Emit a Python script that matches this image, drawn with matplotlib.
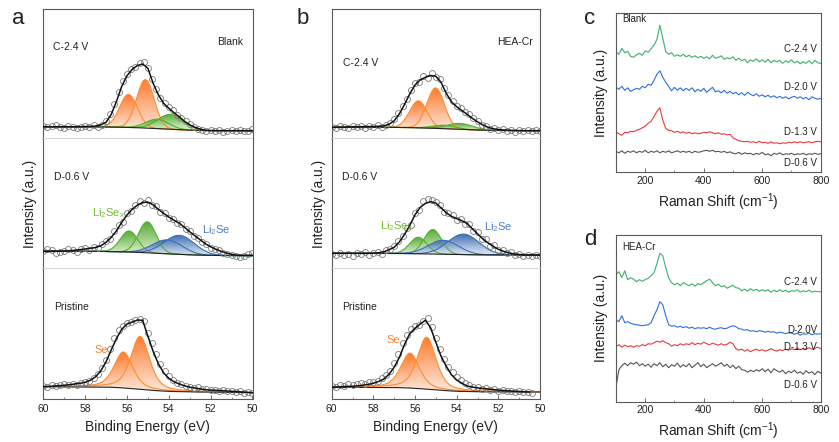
import numpy as np
import matplotlib.pyplot as plt
from matplotlib.colors import LinearSegmentedColormap

plt.rcParams['font.family'] = ['Liberation Sans', 'DejaVu Sans']
plt.rcParams['mathtext.default'] = 'regular'

# ---------------- Se 3d XPS (a: Blank, b: HEA-Cr) ----------------
# points every 0.2 eV from 60 eV, fit envelope every 0.25 eV from 60 eV
a_c24_pts = [13.5, 12.0, 13.8, 14.2, 12.6, 11.5, 13.0, 12.2, 11.4, 12.8,
             13.6, 12.4, 13.9, 12.8, 14.8, 18.5, 25.0, 35.5, 47.0, 58.5,
             65.0, 70.5, 72.0, 76.0, 77.5, 71.5, 60.5, 50.0, 41.5, 36.5,
             32.5, 29.0, 24.5, 21.5, 18.0, 15.5, 12.0, 10.2, 9.0, 8.2,
             9.8, 8.0, 9.2, 7.8, 8.8, 9.6, 8.3, 9.0, 7.9, 8.6, 10.0]
a_c24_fit = [12.5, 12.5, 12.5, 12.5, 12.5, 12.5, 12.5, 12.6, 12.7, 12.9,
             13.2, 14.5, 17, 25, 38, 53, 63.5, 70, 73.8, 75.3,
             71, 56, 44.5, 36, 31, 26.5, 22.5, 18, 14.5, 12,
             10.2, 9, 8.7, 8.6, 8.6, 8.6, 8.6, 8.6, 8.6, 8.6, 8.6]
a_c24_bg_e = [60, 57.5, 56.5, 55.5, 54.5, 53.5, 52.5, 50]
a_c24_bg = [12.6, 12.5, 12.2, 11.6, 10.6, 9.5, 8.8, 8.6]
a_c24_peaks = [('Se', 55.93, 33, 0.43, 0), ('Se', 55.12, 48.5, 0.42, 0),
               ('Li2Sex', 54.55, 9.5, 0.55, 0), ('Li2Sex', 53.92, 15, 0.6, 0)]

a_d06_pts = [18.5, 20.5, 19.0, 16.5, 17.0, 18.5, 20.0, 19.5, 17.5, 20.5,
             21.0, 19.5, 22.5, 21.5, 25.0, 28.5, 30.0, 38.5, 44.0, 47.0,
             56.5, 58.0, 64.5, 68.0, 66.0, 69.0, 64.5, 63.0, 57.5, 56.5,
             51.0, 50.5, 46.0, 45.5, 40.0, 38.5, 33.0, 31.5, 27.0, 25.5,
             21.5, 20.0, 19.0, 16.5, 15.0, 14.5, 13.0, 12.0, 13.5, 15.5, 16.5]
a_d06_fit = [17.8, 17.9, 18, 18.1, 18.2, 18.5, 19, 19.6, 20.3, 21,
             21.8, 23.5, 27, 32, 38.5, 47, 54.3, 60, 64.2, 66.8,
             67.2, 64.5, 60, 56, 52.2, 49, 46, 42, 37.5, 33.5,
             29.5, 25.5, 22.5, 20, 18, 16.3, 15, 14.2, 14, 14, 14]
a_d06_bg_e = [60, 57.5, 56, 55, 54, 53, 52, 50]
a_d06_bg = [18.3, 18.0, 17.4, 16.5, 15.4, 14.5, 13.9, 13.6]
a_d06_peaks = [('Li2Sex', 55.9, 21, 0.42, 0), ('Li2Sex', 55.03, 31, 0.42, 0),
               ('Li2Se', 54.07, 14, 0.7, 0), ('Li2Se', 53.5, 19, 0.72, 0)]

a_pri_pts = [13.5, 12.0, 14.0, 13.0, 14.5, 15.5, 14.0, 15.8, 14.8, 16.5,
             17.5, 18.0, 21.5, 25.5, 31.0, 39.0, 50.0, 61.0, 69.0, 73.5,
             76.5, 77.5, 79.0, 80.5, 78.5, 66.0, 56.0, 45.0, 35.5, 28.0,
             23.0, 19.5, 16.5, 15.0, 13.0, 12.5, 11.0, 12.0, 10.0, 10.5,
             9.0, 9.8, 8.2, 9.0, 8.0, 8.6, 7.2, 8.0, 6.8, 7.5, 6.5]
a_pri_fit = [12.6, 12.8, 13.2, 13.6, 14, 14.6, 15.3, 16, 17, 19,
             22.5, 28.5, 37.5, 49.5, 61, 70, 75.3, 77.2, 79.3, 79,
             63, 48, 35.5, 26.5, 21, 17.5, 15.3, 13.5, 12.1, 11.2,
             10.4, 9.6, 9.2, 8.9, 8.6, 8.3, 8, 7.7, 7.3, 7, 6.6]
a_pri_bg_e = [60, 57, 56.5, 56, 55.5, 55, 54.5, 54, 53, 50]
a_pri_bg = [12.6, 12.2, 11.8, 11.1, 10.2, 9.3, 8.5, 7.9, 7.4, 6.6]
a_pri_peaks = [('Se', 56.17, 36, 0.45, 0.5), ('Se', 55.37, 53, 0.45, 0.5)]

b_c24_pts = [12.8, 11.5, 13.0, 12.2, 11.2, 13.5, 12.0, 13.2, 11.8, 13.0,
             12.2, 14.0, 12.5, 14.5, 16.0, 20.5, 26.0, 33.5, 40.5, 49.0,
             56.5, 57.5, 63.0, 61.5, 66.5, 62.0, 60.5, 51.0, 44.0, 38.5,
             33.5, 31.5, 27.0, 25.0, 21.0, 18.5, 14.5, 13.5, 10.5, 11.5,
             9.0, 10.2, 8.0, 9.5, 7.8, 9.8, 8.2, 9.0, 8.0, 9.2, 8.4]
b_c24_fit = [12, 12.1, 12.2, 12.3, 12.4, 12.5, 12.6, 12.7, 12.8, 13,
             13.4, 15, 18.5, 25.5, 35, 45.5, 54.3, 59.4, 62, 63.8,
             63, 57, 46, 37.5, 32.6, 28.7, 25, 21, 17.5, 14.5,
             12, 10.5, 9.8, 9.3, 9, 8.8, 8.7, 8.6, 8.6, 8.6, 8.6]
b_c24_bg_e = [60, 57.5, 56.5, 55.5, 54.5, 53.5, 52.5, 50]
b_c24_bg = [12.0, 12.0, 11.8, 11.3, 10.5, 9.6, 8.9, 8.6]
b_c24_peaks = [('Se', 55.84, 27, 0.42, 0), ('Se', 55.01, 40.5, 0.42, 0),
               ('Li2Sex', 54.6, 3.5, 0.55, 0), ('Li2Sex', 53.84, 6, 0.6, 0)]

b_d06_pts = [15.0, 14.0, 16.5, 14.5, 15.5, 13.8, 16.8, 15.2, 17.0, 14.8,
             16.0, 17.5, 15.5, 19.0, 20.5, 23.5, 28.0, 33.0, 41.0, 44.5,
             56.0, 59.5, 68.0, 70.5, 69.0, 67.0, 64.5, 57.0, 56.5, 54.0,
             49.0, 50.5, 45.0, 45.5, 38.5, 37.0, 30.5, 30.0, 23.5, 24.0,
             19.5, 19.0, 16.5, 17.0, 14.0, 15.0, 13.0, 14.8, 13.2, 14.5, 13.5]
b_d06_fit = [16, 16, 16, 16, 16, 16, 16, 16, 16.1, 16.5,
             17.5, 19.5, 22, 27.5, 35, 44, 54.5, 62, 66, 67.6,
             66.2, 61.5, 56.5, 53, 50.7, 48.5, 45.8, 40.5, 35.5, 30.5,
             26.5, 23, 20, 18, 16.4, 15.4, 14.8, 14.3, 14.3, 14.3, 14.3]
b_d06_bg_e = [60, 57, 56, 55, 54, 53, 50]
b_d06_bg = [16, 15.9, 15.6, 15.2, 14.8, 14.5, 14.3]
b_d06_peaks = [('Li2Sex', 55.84, 16.5, 0.42, 0), ('Li2Sex', 55.15, 24.5, 0.42, 0),
               ('Li2Se', 54.64, 14, 0.72, 0), ('Li2Se', 53.68, 20.5, 0.75, 0)]

b_pri_pts = [13.0, 12.5, 14.0, 13.5, 15.0, 14.0, 15.5, 16.0, 15.0, 17.0,
             17.5, 18.5, 21.0, 24.5, 28.5, 36.0, 45.5, 56.0, 64.0, 70.5,
             73.0, 74.0, 78.5, 81.0, 72.0, 61.0, 50.0, 40.0, 32.0, 27.0,
             22.0, 19.5, 16.0, 14.5, 12.5, 12.0, 10.5, 11.0, 9.5, 10.0,
             8.5, 9.5, 8.0, 8.8, 7.6, 8.2, 7.0, 7.8, 6.8]
b_pri_fit = [12, 12.3, 12.6, 12.9, 13.1, 13.4, 14.1, 14.9, 16, 17.8,
             20.2, 25, 32, 42, 55, 65.8, 71, 75.3, 79.1, 71.5,
             57, 43, 33, 24.5, 19.3, 16, 13.3, 12.2, 11.4, 10.8,
             10.3, 9.7, 9.2, 8.8, 8.4, 8.1, 7.8, 7.5, 7.3]
b_pri_bg_e = [60, 57, 56.5, 56, 55.5, 55, 54.5, 54, 53, 50.5]
b_pri_bg = [12, 11.8, 11.5, 11, 10.2, 9.4, 8.6, 8, 7.5, 7.3]
b_pri_peaks = [('Se', 56.24, 35, 0.45, 0.5), ('Se', 55.44, 52, 0.45, 0.5)]

# ---------------- Raman (c: Blank, d: HEA-Cr), every 10 cm-1 from 100 ----------------
raman_x = np.arange(100, 801, 10)
c_c24 = [120.5, 118, 124, 119.5, 121, 116, 115, 117.5, 119, 117,
         121.5, 120, 123.5, 127, 133, 147, 134, 121, 118, 119.5,
         116, 117.5, 116, 118, 115.5, 117, 115, 116.5, 114.5, 116,
         114, 115.5, 113.5, 117, 114, 115, 116.5, 113, 114.5, 113.5,
         115.5, 112, 114, 111.5, 113, 109.5, 112.5, 111, 113.5, 110.5,
         112.5, 110, 113, 109.5, 112, 110.5, 112, 109, 111.5, 110,
         112.5, 109.5, 111, 108.5, 110.5, 109, 111.5, 108.5, 112, 109.5,
         109]
c_d20 = [85, 83, 86, 82, 84.5, 81, 82.5, 84, 83, 86,
         84.5, 88, 87, 92, 98, 101.5, 95, 90, 86, 81.5,
         85, 82, 84.5, 81.5, 84, 82, 84.5, 80.5, 83, 81,
         84, 80, 82.5, 85, 80.5, 81.5, 79.5, 82, 79, 81,
         78.5, 80, 77.5, 79.5, 77, 80, 78, 76.5, 78.5, 76,
         77.5, 75.5, 77, 75, 76.5, 74.5, 76, 74, 75.5, 73.5,
         75, 76, 74, 75.5, 73.5, 75, 72.5, 75.5, 74, 73,
         74]
c_d13 = [40.5, 38.5, 37, 40, 39.5, 41, 40.5, 42, 43, 44.5,
         46, 49, 51, 56, 61, 64.5, 52, 44, 42, 41.5,
         40, 41, 39.5, 40.5, 39, 40, 38.5, 39.5, 38.5, 39,
         40, 39.5, 40.5, 39.5, 38.5, 39.5, 38, 38.5, 37.5, 38,
         34.5, 33, 31.5, 31, 30.5, 31, 30, 30.5, 29.5, 31,
         29.5, 30, 29, 30.5, 29, 29.5, 28.5, 29.5, 29, 30,
         29.5, 30.5, 29.5, 30.5, 29.5, 30, 30.5, 29.5, 30.5, 31,
         30.5]
c_d06 = [21, 19.5, 21.5, 19, 21, 20, 21.5, 19.5, 21, 20,
         22, 19.5, 21, 20, 21.5, 19.5, 21, 20, 21.5, 19.5,
         20.5, 21.5, 20, 21, 20, 21, 19.5, 21, 20, 20.5,
         21.5, 22, 21, 22, 20.5, 21, 20, 21, 19.5, 20.5,
         19, 18.5, 20, 18, 19.5, 18.5, 19, 17.5, 19, 18,
         20, 17.5, 18.5, 16.5, 19, 18, 19.5, 17.5, 18.5, 18,
         19, 17.5, 18.5, 18, 19, 17.5, 18.5, 18, 19, 18,
         18.5]
d_c24 = [127, 130, 124, 131, 122, 124, 122.5, 120, 122, 120.5,
         122, 123.5, 126, 129, 138, 148.5, 146, 134, 124, 119,
         117, 118.5, 116, 119, 117.5, 116, 118, 115.5, 118, 117,
         119, 121, 122.5, 119, 116, 117.5, 115, 116, 113.5, 115,
         116.5, 114, 113.5, 111, 112.5, 110.5, 113, 111, 112.5, 110.5,
         112, 110.5, 112, 109.5, 111.5, 110, 112, 110, 111.5, 109.5,
         111, 110.5, 112, 109.5, 111, 110, 111.5, 109.5, 110.5, 110,
         110]
d_d20 = [82, 80, 86, 79, 80, 78.5, 77.5, 77, 76.5, 76,
         76.5, 77, 79, 86, 92, 100, 97, 86, 77, 75.5,
         76, 74.5, 75.5, 74, 75, 73.5, 74.5, 73, 74, 73.5,
         74, 73, 74.5, 73, 72.5, 73.5, 74, 73, 73.5, 75,
         76, 75, 73, 72.5, 71.5, 72, 70.5, 71, 70, 71,
         70.5, 69.5, 70.5, 69.5, 70, 68.5, 69.5, 69, 68, 69,
         68.5, 67.5, 68.5, 66.5, 68, 67.5, 68.5, 67, 68, 67.5,
         68]
d_d13 = [55, 57, 54.5, 56.5, 55, 56, 54.5, 56, 55.5, 57,
         56, 58, 57.5, 59, 60.5, 59.5, 61, 59, 58, 55.5,
         57, 56, 58, 56.5, 58, 57, 59, 57, 58.5, 57.5,
         59.5, 58, 57, 58.5, 57.5, 56.5, 58, 56.5, 57.5, 59.5,
         58, 53, 51.5, 52.5, 50.5, 52, 50, 51.5, 52.5, 51,
         52, 50.5, 51.5, 53, 51.5, 50.5, 52, 51, 52.5, 51.5,
         53, 52, 53.5, 52, 53, 52.5, 54, 52.5, 53.5, 54.5,
         53]
d_d06 = [15, 32, 36, 38.5, 36, 39, 37.5, 39.5, 36, 38,
         35.5, 37.5, 34.5, 38, 36, 39, 35, 37.5, 34, 37,
         35.5, 38.5, 34.5, 37, 35, 38, 34, 36.5, 39, 35,
         37.5, 34, 36, 38, 35.5, 37, 39, 35.5, 37.5, 34,
         36.5, 33, 35.5, 32, 31.5, 29.5, 31.5, 30, 32, 30.5,
         33, 30, 32.5, 29, 33, 31, 29.5, 31.5, 28, 30.5,
         29, 31.5, 28.5, 30, 27.5, 31, 28.5, 30, 27, 30.5,
         28.5]

# ---------------- styles ----------------
kind_style = {'Se': ('#ff6f1c', '#fde9dc', '#ff8b30'),
              'Li2Sex': ('#48a524', '#e8f4df', '#58ad32'),
              'Li2Se': ('#2f62ab', '#e3ebf5', '#3d6fb3')}
frame = '#5a5a5a'
sep = '#cfcfcf'

W, H = 839, 442
fig = plt.figure(figsize=(W / 100, H / 100), dpi=100)


def rect(x0, y0, x1, y1):
    return [x0 / W, 1 - y1 / H, (x1 - x0) / W, (y1 - y0) / H]


def txt(x, y, s, ha='left', size=7.5, color='#222222', **kw):
    fig.text(x / W, 1 - y / H, s, ha=ha, va='center', fontsize=size, color=color, **kw)


def component(e, c, h, s, eta):
    g = np.exp(-(e - c) ** 2 / (2 * s * s))
    lz = 1 / (1 + ((e - c) / (1.1774 * s)) ** 2)
    return h * ((1 - eta) * g + eta * lz)


def draw_xps(ax, pts, fit, bg_e, bg_i, peaks):
    ef = np.linspace(60, 50, 501)
    bg = np.interp(ef, bg_e[::-1], bg_i[::-1])
    grad = np.linspace(0, 1, 256).reshape(-1, 1)
    for kind, c, h, s, eta in peaks:
        top, bot, lc = kind_style[kind]
        y = bg + component(ef, c, h, s, eta)
        poly = ax.fill_between(ef, bg, y, facecolor='none', edgecolor='none')
        cmap = LinearSegmentedColormap.from_list(kind, [bot, top])
        im = ax.imshow(grad, extent=[60, 50, bg.min(), y.max()], origin='lower',
                       aspect='auto', cmap=cmap, alpha=0.92, zorder=1)
        im.set_clip_path(poly.get_paths()[0], transform=ax.transData)
        ax.plot(ef, y, color=lc, lw=0.8, zorder=2)
    ax.plot(ef, bg, color='#222222', lw=0.8, zorder=2)
    e_pts = 60 - 0.2 * np.arange(len(pts))
    ax.plot(e_pts, pts, 'o', ms=4.3, mfc='none', mec='#7a7a7a', mew=0.6, zorder=3)
    e_fit = 60 - 0.25 * np.arange(len(fit))
    ax.plot(e_fit, fit, color='#111111', lw=1.1, zorder=4)
    ax.set_xlim(60, 50)
    ax.set_ylim(0, 130)
    ax.set_yticks([])


xps = [[(a_c24_pts, a_c24_fit, a_c24_bg_e, a_c24_bg, a_c24_peaks),
        (a_d06_pts, a_d06_fit, a_d06_bg_e, a_d06_bg, a_d06_peaks),
        (a_pri_pts, a_pri_fit, a_pri_bg_e, a_pri_bg, a_pri_peaks)],
       [(b_c24_pts, b_c24_fit, b_c24_bg_e, b_c24_bg, b_c24_peaks),
        (b_d06_pts, b_d06_fit, b_d06_bg_e, b_d06_bg, b_d06_peaks),
        (b_pri_pts, b_pri_fit, b_pri_bg_e, b_pri_bg, b_pri_peaks)]]

cols = [(43.3, 252.5), (331.7, 540.0)]
rows = [(9.3, 139.3), (139.3, 269.3), (269.3, 399.3)]
for ci, (x0, x1) in enumerate(cols):
    for ri, (y0, y1) in enumerate(rows):
        ax = fig.add_axes(rect(x0, y0, x1, y1))
        draw_xps(ax, *xps[ci][ri])
        for sp in ax.spines.values():
            sp.set_color(frame)
            sp.set_linewidth(0.8)
        if ri > 0:
            ax.spines['top'].set_visible(False)
        if ri < 2:
            ax.spines['bottom'].set_color(sep)
            ax.spines['bottom'].set_linewidth(1.3)
            ax.set_xticks([])
        else:
            ax.set_xticks([60, 58, 56, 54, 52, 50])
            ax.set_xticks([59, 57, 55, 53, 51], minor=True)
            ax.tick_params(axis='x', which='both', direction='in', colors=frame,
                           labelcolor='#222222', labelsize=7.5, pad=3.5)
            ax.tick_params(axis='x', which='major', length=3, width=0.6)
            ax.tick_params(axis='x', which='minor', length=1.8, width=0.5)
            ax.set_xlabel('Binding Energy (eV)', fontsize=10, labelpad=4, color='#222222')
    txt(x0 - 13, 204, 'Intensity (a.u.)', ha='center', size=10, rotation=90)

# ---------------- Raman panels ----------------
raman = [(rect(616, 13.3, 820.7, 172.3), 159, [c_c24, c_d20, c_d13, c_d06]),
         (rect(616, 235, 820.7, 401.7), 166.7, [d_c24, d_d20, d_d13, d_d06])]
raman_cols = ['#3fae6c', '#2a6fe0', '#e83a3f', '#555555']
for pos, top, traces in raman:
    ax = fig.add_axes(pos)
    for ys, colr in zip(traces, raman_cols):
        ax.plot(raman_x, ys, color=colr, lw=0.8)
    ax.set_xlim(100, 800)
    ax.set_ylim(0, top)
    ax.set_yticks([])
    ax.set_xticks([200, 400, 600, 800])
    ax.set_xticks([100, 300, 500, 700], minor=True)
    ax.tick_params(axis='x', which='both', direction='in', colors=frame,
                   labelcolor='#222222', labelsize=7.5, pad=2.5)
    ax.tick_params(axis='x', which='major', length=3, width=0.6)
    ax.tick_params(axis='x', which='minor', length=1.8, width=0.5)
    for sp in ax.spines.values():
        sp.set_color(frame)
        sp.set_linewidth(0.8)
    ax.set_xlabel('Raman Shift (cm$^{-1}$)', fontsize=10, labelpad=4, color='#222222')

txt(601, 92.8, 'Intensity (a.u.)', ha='center', size=10, rotation=90)
txt(601, 318, 'Intensity (a.u.)', ha='center', size=10, rotation=90)

# ---------------- annotations ----------------
txt(18, 18, 'a', ha='center', size=16)
txt(303, 18, 'b', ha='center', size=16)
txt(590, 18, 'c', ha='center', size=16)
txt(590, 240, 'd', ha='center', size=16)

txt(53, 47, 'C-2.4 V')
txt(243, 42, 'Blank', ha='right')
txt(54, 177, 'D-0.6 V')
txt(92, 213, 'Li$_2$Se$_x$', size=8, color='#6cbd2f')
txt(202, 230, 'Li$_2$Se', size=8, color='#4a7fc6')
txt(54, 307, 'Pristine')
txt(94, 350, 'Se', size=8, color='#ff7f2a')

txt(343, 63, 'C-2.4 V')
txt(533, 42, 'HEA-Cr', ha='right')
txt(342, 177, 'D-0.6 V')
txt(380, 226, 'Li$_2$Se$_x$', size=8, color='#6cbd2f')
txt(484, 227, 'Li$_2$Se', size=8, color='#4a7fc6')
txt(342, 307, 'Pristine')
txt(386, 340, 'Se', size=8, color='#ff7f2a')

txt(622, 19.5, 'Blank', size=7)
txt(817, 48.5, 'C-2.4 V', ha='right', size=7)
txt(817, 87, 'D-2.0 V', ha='right', size=7)
txt(817, 132, 'D-1.3 V', ha='right', size=7)
txt(817, 163, 'D-0.6 V', ha='right', size=7)

txt(622, 247, 'HEA-Cr', size=7)
txt(817, 282, 'C-2.4 V', ha='right', size=7)
txt(817, 330, 'D-2.0V', ha='right', size=7)
txt(817, 346.5, 'D-1.3 V', ha='right', size=7)
txt(817, 385, 'D-0.6 V', ha='right', size=7)

fig.savefig('out.png', dpi=100)
